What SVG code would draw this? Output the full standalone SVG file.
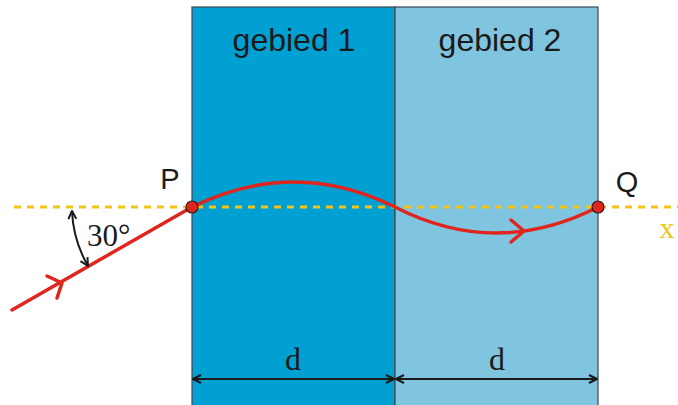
<svg xmlns="http://www.w3.org/2000/svg" width="678" height="405" viewBox="0 0 678 405">
<style>
.sans{font-family:"Liberation Sans",Arial,sans-serif;fill:#1a1a1a}
.serif{font-family:"Liberation Serif","Times New Roman",serif;fill:#1a1a1a}
.ray{fill:none;stroke:#e0261c;stroke-width:3.5;stroke-linecap:round}
.chev{fill:none;stroke:#e0261c;stroke-width:3.5;stroke-linecap:round;stroke-linejoin:round}
.dim{fill:none;stroke:#1a1a1a;stroke-width:2}
</style>
<defs>
<marker id="ah" viewBox="0 0 10 10" refX="9" refY="5" markerWidth="10" markerHeight="10" markerUnits="userSpaceOnUse" orient="auto-start-reverse">
<path d="M1,1 L9,5 L1,9" fill="none" stroke="#1a1a1a" stroke-width="2" stroke-linejoin="round"/>
</marker>
</defs>
<rect width="678" height="405" fill="#fff"/>
<g id="gebied1">
<rect x="192" y="7" width="203" height="400" fill="#00a0d3" stroke="#3a4650" stroke-width="1.2"/>
<text class="sans" x="294" y="51" font-size="32" text-anchor="middle">gebied 1</text>
</g>
<g id="gebied2">
<rect x="395" y="7" width="203" height="400" fill="#80c5e0" stroke="#3a4650" stroke-width="1.2"/>
<text class="sans" x="500" y="51" font-size="32" text-anchor="middle">gebied 2</text>
</g>
<g id="xaxis">
<line x1="14" y1="207" x2="678" y2="207" stroke="#f2c417" stroke-width="3" stroke-dasharray="7,6"/>
<text class="serif" x="667" y="238" font-size="30" text-anchor="middle" style="fill:#f2c417">x</text>
</g>
<g id="connectors">
<line class="ray" x1="12" y1="310" x2="192" y2="207"/>
<path class="chev" d="M47,276 L62,283 L57,298"/>
<path class="ray" d="M192,207 Q293.5,157 395,207 Q496,259 598,207"/>
<path class="chev" d="M511,220 L524,231 L511,242"/>
<path class="dim" d="M72,211 A120,120 0 0 0 88,266" marker-start="url(#ah)" marker-end="url(#ah)"/>
<line class="dim" x1="193" y1="379" x2="394" y2="379" marker-start="url(#ah)" marker-end="url(#ah)"/>
<line class="dim" x1="396" y1="379" x2="597" y2="379" marker-start="url(#ah)" marker-end="url(#ah)"/>
</g>
<g id="angle-label"><text class="serif" x="87" y="246" font-size="31">30°</text></g>
<g id="d1"><text class="serif" x="293" y="370" font-size="32" text-anchor="middle">d</text></g>
<g id="d2"><text class="serif" x="497" y="370" font-size="32" text-anchor="middle">d</text></g>
<g id="P">
<circle cx="192" cy="207" r="6" fill="#e0261c" stroke="#3a1a1a" stroke-width="1.2"/>
<text class="sans" x="170" y="189" font-size="29" text-anchor="middle">P</text>
</g>
<g id="Q">
<circle cx="598" cy="207" r="6" fill="#e0261c" stroke="#3a1a1a" stroke-width="1.2"/>
<text class="sans" x="627" y="192" font-size="29" text-anchor="middle">Q</text>
</g>
</svg>
